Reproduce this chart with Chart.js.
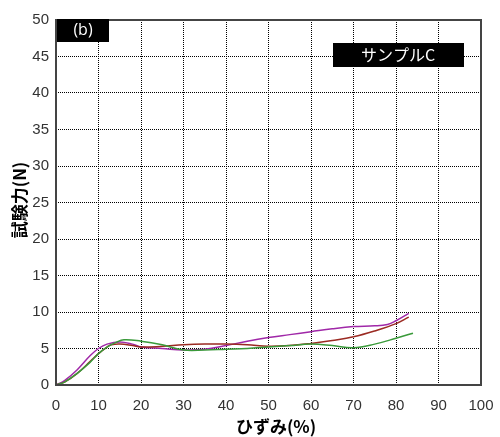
<!DOCTYPE html>
<html><head><meta charset="utf-8">
<script src="https://cdn.jsdelivr.net/npm/chart.js@4"></script>
<style>html,body{margin:0;padding:0;background:#fff}#wrap{width:500px;height:437px}</style>
</head><body><div id="wrap"><canvas id="c" width="500" height="437"></canvas></div>
<script>
const strainRed    = [0, 2, 5, 8, 10, 12, 13, 15, 18, 20, 25, 30, 35, 40, 45, 50, 55, 60, 65, 70, 75, 80, 83];
const forceRed     = [0, 0.4, 1.6, 3.2, 4.3, 5.2, 5.5, 5.6, 5.4, 5.2, 5.3, 5.5, 5.6, 5.6, 5.5, 5.3, 5.4, 5.7, 6.1, 6.6, 7.4, 8.4, 9.3];
const strainPurple = [0, 2, 5, 8, 10, 12, 15, 18, 20, 25, 30, 35, 40, 45, 50, 55, 60, 65, 70, 75, 78, 80, 83];
const forcePurple  = [0, 0.6, 2.1, 4.0, 5.0, 5.6, 5.9, 5.6, 5.2, 5.0, 4.8, 4.9, 5.4, 6.0, 6.5, 6.9, 7.3, 7.7, 8.0, 8.1, 8.3, 8.8, 9.8];
const strainGreen  = [0, 2, 5, 8, 10, 12, 14, 16, 20, 25, 30, 35, 40, 45, 50, 55, 60, 65, 70, 75, 80, 84];
const forceGreen   = [0, 0.4, 1.6, 3.1, 4.3, 5.2, 5.8, 6.2, 6.0, 5.5, 4.8, 4.8, 4.9, 5.0, 5.2, 5.4, 5.6, 5.4, 5.1, 5.6, 6.4, 7.1];
const xTicks = [0,10,20,30,40,50,60,70,80,90,100];
const yTicks = [0,5,10,15,20,25,30,35,40,45,50];
const panelLabel = "(b)";
const sampleLabel = "サンプルC";
const xTitle = "ひずみ(%)";
const yTitle = "試験力(N)";

const pts = (xs, ys) => xs.map((x, i) => ({x, y: ys[i]}));

const overlay = {
  id: 'overlay',
  afterDraw(chart) {
    const {ctx, chartArea: a} = chart;
    ctx.save();
    ctx.strokeStyle = '#444';
    ctx.lineWidth = 2;
    ctx.strokeRect(a.left, a.top, a.right - a.left, a.bottom - a.top);
    // panel label
    ctx.fillStyle = '#000';
    ctx.fillRect(a.left + 1, a.top - 1, 52, 23);
    ctx.fillStyle = '#fff';
    ctx.font = '16px "Open Sans", "Noto Sans CJK JP"';
    ctx.textAlign = 'center';
    ctx.textBaseline = 'middle';
    ctx.fillText(panelLabel, a.left + 27, a.top + 10);
    // sample label
    ctx.fillStyle = '#000';
    ctx.fillRect(333, 43, 131, 24);
    ctx.fillStyle = '#fff';
    ctx.font = '16px "Noto Sans CJK JP"';
    ctx.fillText(sampleLabel, 398, 55);
    // axis titles
    ctx.fillStyle = '#000';
    ctx.font = 'bold 17px "Noto Sans CJK JP"';
    ctx.fillText(xTitle, 276, 427);
    ctx.translate(20, 200);
    ctx.rotate(-Math.PI / 2);
    ctx.fillText(yTitle, 0, 0);
    ctx.restore();
  }
};

new Chart(document.getElementById('c'), {
  type: 'scatter',
  data: {
    datasets: [
      {data: pts(strainGreen, forceGreen), borderColor: '#3a9a3a', showLine: true, pointRadius: 0, borderWidth: 1.5, tension: 0.4},
      {data: pts(strainRed, forceRed), borderColor: '#9b2a22', showLine: true, pointRadius: 0, borderWidth: 1.5, tension: 0.4},
      {data: pts(strainPurple, forcePurple), borderColor: '#a028a8', showLine: true, pointRadius: 0, borderWidth: 1.5, tension: 0.4}
    ]
  },
  options: {
    responsive: false,
    animation: false,
    layout: {padding: {left: 0, right: 19, top: 20, bottom: 0}},
    plugins: {legend: {display: false}, tooltip: {enabled: false}},
    scales: {
      x: {
        type: 'linear', min: 0, max: 100,
        afterBuildTicks: s => { s.ticks = xTicks.map(v => ({value: v})); },
        afterFit: s => { s.height = 52; s.paddingLeft = 0; s.paddingRight = 0; },
        grid: {color: '#000', lineWidth: 1, drawTicks: false},
        border: {display: false, dash: [1, 1]},
        ticks: {color: '#333', font: {family: 'Liberation Sans', size: 15}, padding: 12, maxRotation: 0}
      },
      y: {
        min: 0, max: 50,
        afterBuildTicks: s => { s.ticks = yTicks.map(v => ({value: v})); },
        afterFit: s => { s.width = 56; s.paddingTop = 0; s.paddingBottom = 0; },
        grid: {color: '#000', lineWidth: 1, drawTicks: false},
        border: {display: false, dash: [1, 1]},
        ticks: {color: '#333', font: {family: 'Liberation Sans', size: 15}, padding: 7}
      }
    }
  },
  plugins: [overlay]
});
</script></body></html>
